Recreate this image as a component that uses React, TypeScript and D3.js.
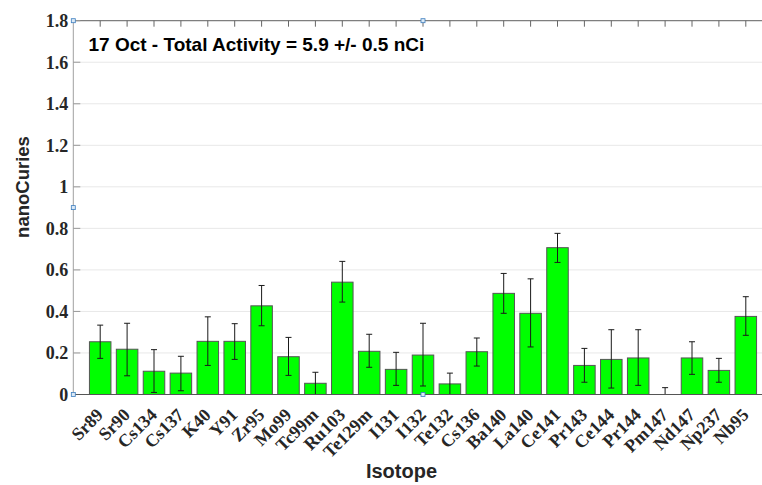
import React from "react";
import * as d3 from "d3";

const isotopes = ["Sr89","Sr90","Cs134","Cs137","K40","Y91","Zr95","Mo99","Tc99m","Ru103","Te129m","I131","I132","Te132","Cs136","Ba140","La140","Ce141","Pr143","Ce144","Pr144","Pm147","Nd147","Np237","Nb95"];
const activity = [0.254,0.218,0.112,0.103,0.256,0.256,0.427,0.182,0.054,0.541,0.208,0.121,0.19,0.051,0.206,0.487,0.391,0.707,0.14,0.169,0.176,0.0,0.176,0.116,0.376];
const errorTop = [0.334,0.343,0.216,0.184,0.374,0.341,0.525,0.275,0.107,0.641,0.29,0.203,0.343,0.103,0.272,0.583,0.557,0.776,0.222,0.312,0.312,0.033,0.254,0.174,0.471];
const errorBottom = [0.174,0.09,0.01,0.018,0.14,0.169,0.331,0.092,0.0,0.445,0.131,0.044,0.041,0.0,0.137,0.391,0.229,0.636,0.059,0.031,0.044,0.0,0.097,0.059,0.285];
const yTicks = [0,0.2,0.4,0.6,0.8,1,1.2,1.4,1.6,1.8];
const yTickLabels = ["0","0.2","0.4","0.6","0.8","1","1.2","1.4","1.6","1.8"];
const titleText = "17 Oct - Total Activity = 5.9 +/- 0.5 nCi";
const xLabel = "Isotope";
const yLabel = "nanoCuries";

export default function App() {
  const W = 762, H = 485;
  const left = 73.3, right = 772.7, top = 20.7, bottom = 394.5;
  const x = d3.scaleLinear().domain([0, isotopes.length + 1]).range([left, right]);
  const y = d3.scaleLinear().domain([0, 1.8]).range([bottom, top]);
  const bw = (x(1) - x(0)) * 0.8;
  const serif = "'Liberation Serif', 'Times New Roman', serif";
  const sans = "'Liberation Sans', Arial, Helvetica, sans-serif";
  const markers: [number, number][] = [
    [left, top], [(left + right) / 2, top], [left, (top + bottom) / 2], [left, bottom], [(left + right) / 2, bottom],
  ];
  return (
    <svg width={W} height={H} style={{ position: "absolute", left: 0, top: 0, background: "#fff" }}>
      {/* grid */}
      {yTicks.map((t, i) => (
        <line key={"g" + i} x1={left} x2={right} y1={y(t)} y2={y(t)} stroke="#e8e8e8" strokeWidth={1} />
      ))}
      {/* bars */}
      {activity.map((v, i) => (
        <rect key={"b" + i} x={x(i + 1) - bw / 2} y={y(v)} width={bw} height={Math.max(0, y(0) - y(v))}
          fill="#00ff00" stroke="#555" strokeWidth={1} />
      ))}
      {/* error bars */}
      {activity.map((v, i) => {
        const cx = x(i + 1);
        return (
          <g key={"e" + i} stroke="#1a1a1a" strokeWidth={1}>
            <line x1={cx} x2={cx} y1={y(errorTop[i])} y2={y(errorBottom[i])} />
            <line x1={cx - 3} x2={cx + 3} y1={y(errorTop[i])} y2={y(errorTop[i])} />
            <line x1={cx - 3} x2={cx + 3} y1={y(errorBottom[i])} y2={y(errorBottom[i])} />
          </g>
        );
      })}
      {/* axes */}
      <line x1={left} x2={right} y1={top} y2={top} stroke="#666" strokeWidth={1} />
      {isotopes.map((_, i) => (
        <line key={"tt" + i} x1={x(i + 1)} x2={x(i + 1)} y1={top} y2={top + 6} stroke="#666" strokeWidth={1} />
      ))}
      <line x1={left} x2={left} y1={top} y2={bottom} stroke="#a0a0a0" strokeWidth={1} />
      {yTicks.map((t, i) => (
        <line key={"yt" + i} x1={left} x2={left + 7} y1={y(t)} y2={y(t)} stroke="#999" strokeWidth={1} />
      ))}
      <line x1={left} x2={right} y1={bottom} y2={bottom} stroke="#555" strokeWidth={1.2} />
      {/* y tick labels */}
      {yTicks.map((t, i) => (
        <text key={"yl" + i} x={left - 5} y={y(t)} dy="0.35em" textAnchor="end" fontFamily={serif}
          fontWeight="bold" fontSize={18} fill="#262626">{yTickLabels[i]}</text>
      ))}
      {/* x tick labels */}
      {isotopes.map((name, i) => {
        const ax = x(i + 1) + 4, ay = 416;
        return (
          <text key={"xl" + i} x={ax} y={ay} textAnchor="end" fontFamily={serif} fontWeight="bold"
            fontSize={18} fill="#262626" transform={`rotate(-45 ${ax} ${ay})`}>{name}</text>
        );
      })}
      {/* title */}
      <text x={88.5} y={50.5} fontFamily={sans} fontWeight="bold" fontSize={19} fill="#000">{titleText}</text>
      {/* axis labels */}
      <text x={401.5} y={478} textAnchor="middle" fontFamily={sans} fontWeight="bold" fontSize={20} fill="#262626">{xLabel}</text>
      <text x={0} y={0} transform={`translate(28.5 187) rotate(-90)`} textAnchor="middle" fontFamily={sans}
        fontWeight="bold" fontSize={18.5} fill="#262626">{yLabel}</text>
      {/* selection markers */}
      {markers.map(([mx, my], i) => (
        <rect key={"m" + i} x={mx - 2} y={my - 2} width={4} height={4} fill="#dbe9f6" stroke="#3d7ebf" strokeWidth={0.8} />
      ))}
    </svg>
  );
}
